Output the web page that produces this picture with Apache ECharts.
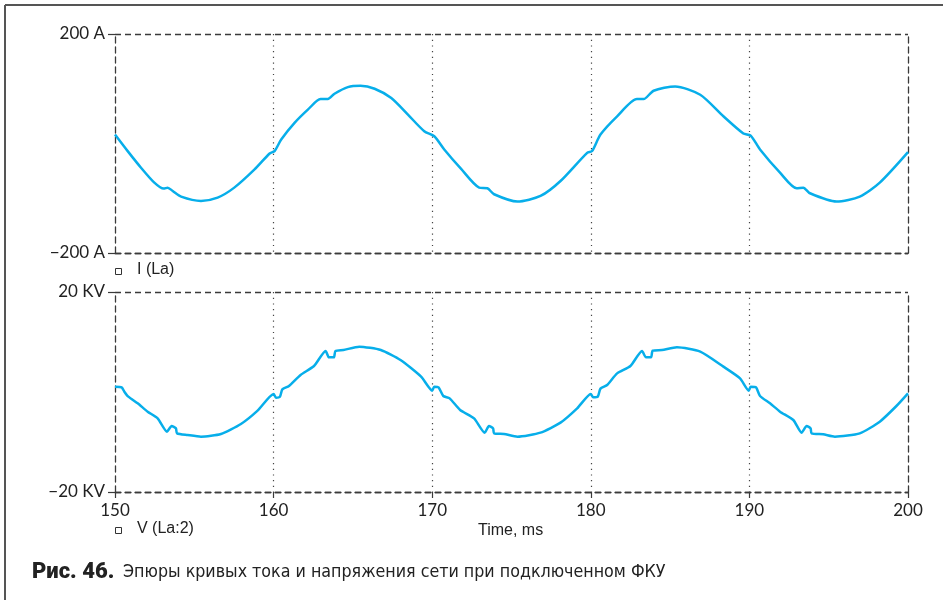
<!DOCTYPE html>
<html><head><meta charset="utf-8">
<script src="https://cdn.jsdelivr.net/npm/echarts@6/dist/echarts.min.js"></script>
<style>html,body{margin:0;padding:0;background:#fff}#c{width:943px;height:600px}</style>
</head><body><div id="c"></div>
<script>
const xTicks = [150,160,170,180,190,200];
const yTicksI = {'-200':'\u2212200 A','200':'200 A'};
const yTicksV = {'-20':'\u221220 KV','20':'20 KV'};
const legendI = 'I (La)';
const legendV = 'V (La:2)';
const xTitle = 'Time, ms';
const captionBold = 'Рис. 46.';
const captionText = 'Эпюры кривых тока и напряжения сети при подключенном ФКУ';

const tI = [150,150.8,151.64,152.48,153.07,153.32,153.64,154.17,155.42,156.47,157.52,158.8,159.75,160.06,160.48,161.32,162.16,162.96,163.42,163.84,164.68,165.48,166.37,167.42,168.47,169.5,170.13,170.76,171.81,172.96,173.48,173.9,175.37,176.83,178.09,179.77,180.08,180.61,181.66,182.91,183.33,183.96,185.32,186.9,188.36,189.62,190.08,190.67,191.93,192.98,193.4,193.82,195.49,196.96,198.22,200];
const iVals = [16.4,-13.9,-44.2,-71.5,-82.4,-80.6,-86.7,-97,-104.8,-98.8,-80.6,-47.3,-18.2,-13.9,7.3,37.6,61.8,81.2,81.2,90.9,103,105.4,100,83,52.7,22.4,13.3,-10.9,-46,-80.6,-81.8,-92.7,-106,-95.8,-68.5,-17,-13.9,16.4,49.7,81.2,81.2,96.4,104.2,89.1,49.7,18.2,14.5,-10.9,-53.3,-81.8,-80.6,-90.9,-106,-97,-71.5,-15.8];

const tV = [150,150.42,150.59,150.84,151.43,152.06,152.69,153.28,153.57,153.84,153.91,154.58,155.42,156.68,157.94,158.99,160,160.15,160.4,160.55,160.97,161.7,162.55,163.28,163.49,163.8,163.9,164.4,165.4,166.76,168,169.3,170,170.13,170.4,170.7,171.1,171.76,172.64,173.31,173.58,173.84,173.9,174.53,175.37,176.83,178.09,179.14,180,180.15,180.44,180.61,181.03,181.66,182.5,183.23,183.48,183.8,183.9,184.49,185.43,186.9,188.36,189.41,189.96,190.08,190.42,190.67,191.3,191.93,192.77,193.29,193.61,193.86,193.92,194.65,195.39,196.96,198.22,199.27,200];
const vVals = [1.07,0.93,0.07,-0.93,-2.27,-3.93,-5.27,-7.93,-6.8,-7.27,-8.27,-8.6,-8.93,-8.4,-6.4,-3.73,-0.4,-1.13,-0.93,0.53,1.2,3.4,5.2,8.2,6.93,6.93,8.2,8.4,9.07,8.4,6.4,3.07,0.27,1.07,0.93,-0.8,-1.27,-3.6,-5.27,-8.13,-6.8,-7.27,-8.27,-8.4,-8.93,-8.13,-6.13,-3.27,-0.4,-1.07,-0.93,0.67,1.4,3.73,5.2,8.2,6.93,6.93,8.27,8.4,8.93,8.07,5.07,2.73,0.27,1.07,0.93,-0.8,-2.27,-3.93,-5.6,-8.13,-6.8,-7.27,-8.27,-8.47,-8.93,-8.27,-5.93,-2.8,-0.27];

const FONT = 'Lato, "Open Sans", "DejaVu Sans", sans-serif';
const FONT2 = '"Liberation Sans", Arial, sans-serif';
const CAPF = '"DejaVu Sans Condensed", "Liberation Sans Narrow", Roboto, sans-serif';
const AX = '#3a3a3a';
const LINE = '#07aeea';
const dashed = {color: AX, width: 1.3, type: [6,4]};
const dotted = {color: '#444', width: 1.2, type: [1.2,4.5]};

function xAxisCfg(gridIndex, showLabels) {
  return {
    type: 'value', gridIndex, min: xTicks[0], max: xTicks[xTicks.length-1], interval: 10,
    axisLine: {show: true, lineStyle: dashed, onZero: false},
    axisTick: {show: showLabels, length: 6, lineStyle: {color: AX, width: 1.2}},
    axisLabel: {show: showLabels, color: '#222', fontSize: 17, fontFamily: FONT, margin: 10},
    splitLine: {show: true, showMinLine: false, showMaxLine: false, lineStyle: dotted}
  };
}
function yAxisCfg(gridIndex, lim, labels) {
  return {
    type: 'value', gridIndex, min: -lim, max: lim, interval: 2*lim,
    axisLine: {show: true, lineStyle: dashed, onZero: false},
    axisTick: {show: true, length: 7, lineStyle: {color: AX, width: 1.2}},
    axisLabel: {color: '#222', fontSize: 17, fontFamily: FONT, margin: 10,
      formatter: v => labels[String(v)] || ''},
    splitLine: {show: true, lineStyle: dashed}
  };
}
function rightAxis(gridIndex, lim) {
  return {type: 'value', gridIndex, position: 'right', min: -lim, max: lim, interval: 2*lim,
    axisLine: {show: true, lineStyle: dashed, onZero: false}, axisTick: {show: false},
    axisLabel: {show: false}, splitLine: {show: false}};
}

const chart = echarts.init(document.getElementById('c'), null, {renderer: 'canvas'});
chart.setOption({
  animation: false,
  backgroundColor: '#fff',
  grid: [
    {left: 115, right: 35, top: 34, height: 219},
    {left: 115, right: 35, top: 292, height: 200}
  ],
  xAxis: [xAxisCfg(0, false), xAxisCfg(1, true)],
  yAxis: [yAxisCfg(0, 200, yTicksI), yAxisCfg(1, 20, yTicksV), rightAxis(0, 200), rightAxis(1, 20)],
  series: [
    {type: 'line', xAxisIndex: 0, yAxisIndex: 0, data: tI.map((t,i)=>[t, iVals[i]]),
      showSymbol: false, smooth: 0.25, lineStyle: {color: LINE, width: 2.5}},
    {type: 'line', xAxisIndex: 1, yAxisIndex: 1, data: tV.map((t,i)=>[t, vVals[i]]),
      showSymbol: false, smooth: 0.2, lineStyle: {color: LINE, width: 2.5}}
  ],
  graphic: [
    {type: 'line', shape: {x1: 5, y1: 5, x2: 943, y2: 5}, style: {stroke: '#555', lineWidth: 2}},
    {type: 'line', shape: {x1: 5, y1: 5, x2: 5, y2: 600}, style: {stroke: '#555', lineWidth: 2}},
    {type: 'rect', shape: {x: 115.5, y: 268.5, width: 6, height: 6}, style: {fill: 'none', stroke: '#333', lineWidth: 1}},
    {type: 'text', x: 137, y: 270, style: {text: legendI, font: '16px ' + FONT2, fill: '#222', textVerticalAlign: 'middle'}},
    {type: 'rect', shape: {x: 115.5, y: 527.5, width: 6, height: 6}, style: {fill: 'none', stroke: '#333', lineWidth: 1}},
    {type: 'text', x: 137, y: 529, style: {text: legendV, font: '16px ' + FONT2, fill: '#222', textVerticalAlign: 'middle'}},
    {type: 'text', x: 478, y: 531, style: {text: xTitle, font: '16px ' + FONT2, fill: '#222', textVerticalAlign: 'middle'}},
    {type: 'text', x: 32, y: 572, style: {text: captionBold, font: '900 22px Roboto, sans-serif', fill: '#222', textVerticalAlign: 'middle'}},
    {type: 'text', x: 123, y: 572, style: {text: captionText, font: '17.7px ' + CAPF, fill: '#222', textVerticalAlign: 'middle'}}
  ]
});
</script></body></html>
